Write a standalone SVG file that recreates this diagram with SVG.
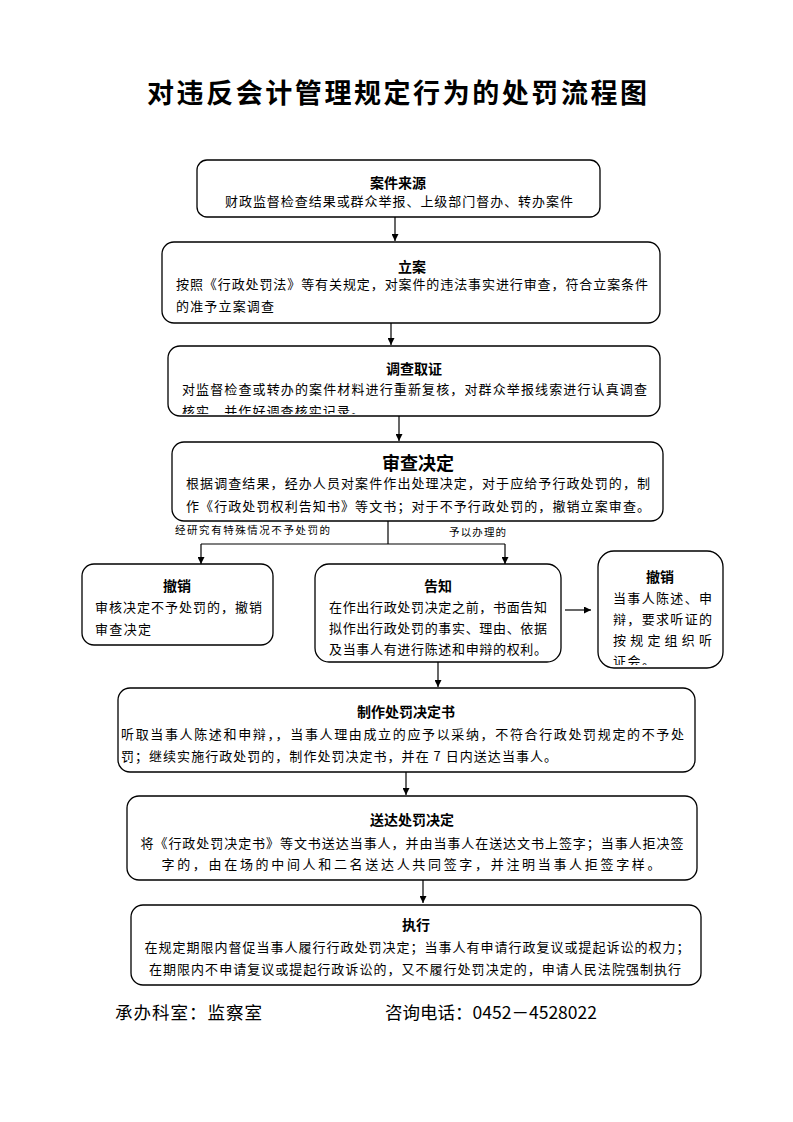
<svg xmlns="http://www.w3.org/2000/svg" width="793" height="1122" viewBox="0 0 793 1122">
<style>
.box{fill:#fff;stroke:#000;stroke-width:1.3}
.ttl{font-family:"Noto Sans CJK SC","Liberation Sans",sans-serif;font-weight:bold;font-size:14px;text-anchor:middle;fill:#000}
.body{font-family:"Noto Sans CJK SC","Liberation Sans",sans-serif;font-size:13px;fill:#000}
.mid{text-anchor:middle}
.lbl{font-family:"Noto Sans CJK SC","Liberation Sans",sans-serif;font-size:10.5px;fill:#000}
.con{stroke:#000;stroke-width:1.2;fill:none}
.foot{font-family:"Noto Sans CJK SC","Liberation Sans",sans-serif;font-size:17.5px;fill:#000}
</style>
<defs>
<marker id="ah" viewBox="0 0 10 10" refX="10" refY="5" markerWidth="7" markerHeight="7" orient="auto" markerUnits="userSpaceOnUse"><path d="M0,0 L10,5 L0,10 z" fill="#000"/></marker>
<clipPath id="c3"><rect x="169" y="347" width="490" height="67"/></clipPath>
<clipPath id="c7"><rect x="599" y="552" width="123" height="113"/></clipPath>
</defs>
<rect width="793" height="1122" fill="#fff"/>
<text x="397" y="103" font-family="Noto Sans CJK SC, sans-serif" font-weight="bold" font-size="27" text-anchor="middle" textLength="500">对违反会计管理规定行为的处罚流程图</text>

<g id="n1">
<rect class="box" x="197" y="160" width="403" height="57" rx="10"/>
<text class="ttl" x="398" y="188">案件来源</text>
<text class="body" x="225" y="206" textLength="348">财政监督检查结果或群众举报、上级部门督办、转办案件</text>
</g>
<g id="n2">
<rect class="box" x="162" y="242" width="498" height="81" rx="12"/>
<text class="ttl" x="412" y="272">立案</text>
<text class="body" x="176" y="289" textLength="472">按照《行政处罚法》等有关规定，对案件的违法事实进行审查，符合立案条件</text>
<text class="body" x="176" y="311" textLength="98">的准予立案调查</text>
</g>
<g id="n3">
<rect class="box" x="168" y="346" width="492" height="70" rx="12"/>
<text class="ttl" x="414" y="374">调查取证</text>
<g clip-path="url(#c3)">
<text class="body" x="182" y="394" textLength="465">对监督检查或转办的案件材料进行重新复核，对群众举报线索进行认真调查</text>
<text class="body" x="182" y="416" textLength="182">核实，并作好调查核实记录。</text>
</g>
</g>
<g id="n4">
<rect class="box" x="172" y="442" width="491" height="79" rx="12"/>
<text class="ttl" x="418" y="470" style="font-size:18px">审查决定</text>
<text class="body" x="186" y="488" textLength="464">根据调查结果，经办人员对案件作出处理决定，对于应给予行政处罚的，制</text>
<text class="body" x="186" y="511" textLength="464">作《行政处罚权利告知书》等文书；对于不予行政处罚的，撤销立案审查。</text>
</g>
<g id="n5">
<rect class="box" x="82" y="564" width="191" height="81" rx="12"/>
<text class="ttl" x="177" y="591">撤销</text>
<text class="body" x="95" y="612" textLength="167">审核决定不予处罚的，撤销</text>
<text class="body" x="95" y="634" textLength="56">审查决定</text>
</g>
<g id="n6">
<rect class="box" x="315" y="564" width="246" height="98" rx="14"/>
<text class="ttl" x="438" y="591">告知</text>
<text class="body" x="329" y="612" textLength="218">在作出行政处罚决定之前，书面告知</text>
<text class="body" x="329" y="633" textLength="218">拟作出行政处罚的事实、理由、依据</text>
<text class="body" x="329" y="654" textLength="218">及当事人有进行陈述和申辩的权利。</text>
</g>
<g id="n7">
<rect class="box" x="598" y="551" width="125" height="117" rx="16"/>
<text class="ttl" x="660" y="582">撤销</text>
<g clip-path="url(#c7)">
<text class="body" x="613" y="603" textLength="99">当事人陈述、申</text>
<text class="body" x="613" y="624" textLength="99">辩，要求听证的</text>
<text class="body" x="613" y="645" textLength="99">按规定组织听</text>
<text class="body" x="613" y="666" textLength="42">证会。</text>
</g>
</g>
<g id="n8">
<rect class="box" x="118" y="688" width="577" height="84" rx="12"/>
<text class="ttl" x="406" y="717">制作处罚决定书</text>
<text class="body" x="121" y="739" textLength="563">听取当事人陈述和申辩，，当事人理由成立的应予以采纳，不符合行政处罚规定的不予处</text>
<text class="body" x="121" y="761" textLength="436">罚；继续实施行政处罚的，制作处罚决定书，并在 7 日内送达当事人。</text>
</g>
<g id="n9">
<rect class="box" x="127" y="796" width="570" height="84" rx="12"/>
<text class="ttl" x="412" y="825">送达处罚决定</text>
<text class="body mid" x="412" y="848" textLength="543">将《行政处罚决定书》等文书送达当事人，并由当事人在送达文书上签字；当事人拒决签</text>
<text class="body mid" x="411" y="869" textLength="499">字的，由在场的中间人和二名送达人共同签字，并注明当事人拒签字样。</text>
</g>
<g id="n10">
<rect class="box" x="131" y="905" width="570" height="80" rx="12"/>
<text class="ttl" x="416" y="930">执行</text>
<text class="body mid" x="417" y="952" textLength="545">在规定期限内督促当事人履行行政处罚决定；当事人有申请行政复议或提起诉讼的权力；</text>
<text class="body mid" x="415" y="974" textLength="532">在期限内不申请复议或提起行政诉讼的，又不履行处罚决定的，申请人民法院强制执行</text>
</g>

<g id="connectors">
<line class="con" x1="395" y1="217" x2="395" y2="241" marker-end="url(#ah)"/>
<line class="con" x1="391" y1="323" x2="391" y2="345" marker-end="url(#ah)"/>
<line class="con" x1="399" y1="416" x2="399" y2="441" marker-end="url(#ah)"/>
<polyline class="con" points="388,521 388,544"/>
<line class="con" x1="201" y1="544" x2="505" y2="544"/>
<line class="con" x1="201" y1="544" x2="201" y2="564" marker-end="url(#ah)"/>
<line class="con" x1="505" y1="544" x2="505" y2="564" marker-end="url(#ah)"/>
<line class="con" x1="565" y1="610" x2="591" y2="610" marker-end="url(#ah)"/>
<line class="con" x1="438" y1="662" x2="438" y2="687" marker-end="url(#ah)"/>
<line class="con" x1="406" y1="772" x2="406" y2="795" marker-end="url(#ah)"/>
<line class="con" x1="423" y1="880" x2="423" y2="903" marker-end="url(#ah)"/>
</g>
<text class="lbl" x="175" y="534" textLength="155">经研究有特殊情况不予处罚的</text>
<text class="lbl" x="449" y="536" textLength="57">予以办理的</text>

<text class="foot" x="115" y="1019" textLength="147">承办科室：监察室</text>
<text class="foot" x="385" y="1019" textLength="212">咨询电话：0452－4528022</text>
</svg>
